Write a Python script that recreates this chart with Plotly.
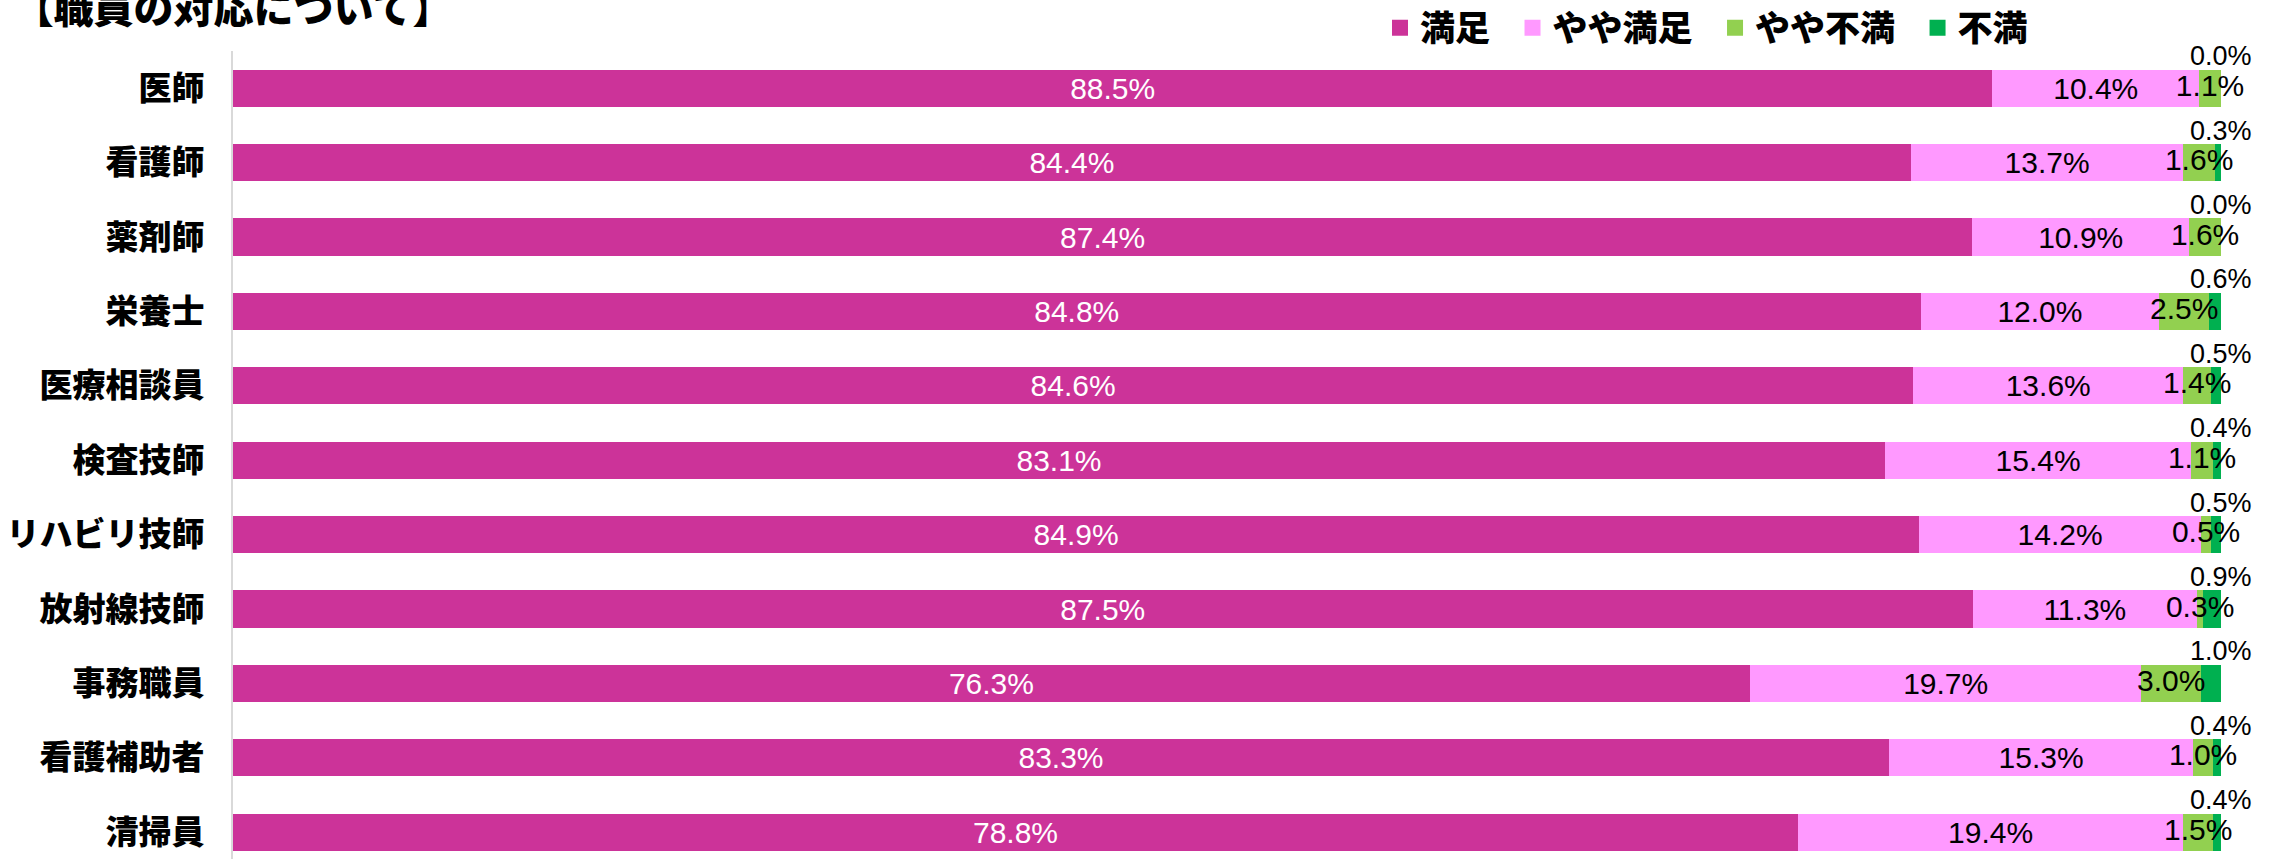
import plotly.graph_objects as go

categories = ["医師", "看護師", "薬剤師", "栄養士", "医療相談員", "検査技師",
              "リハビリ技師", "放射線技師", "事務職員", "看護補助者", "清掃員"]
manzoku = [88.5, 84.4, 87.4, 84.8, 84.6, 83.1, 84.9, 87.5, 76.3, 83.3, 78.8]
yaya_manzoku = [10.4, 13.7, 10.9, 12.0, 13.6, 15.4, 14.2, 11.3, 19.7, 15.3, 19.4]
yaya_fuman = [1.1, 1.6, 1.6, 2.5, 1.4, 1.1, 0.5, 0.3, 3.0, 1.0, 1.5]
fuman = [0.0, 0.3, 0.0, 0.6, 0.5, 0.4, 0.5, 0.9, 1.0, 0.4, 0.4]
series_names = ["満足", "やや満足", "やや不満", "不満"]
colors = ["#CC3399", "#FF99FF", "#92D050", "#00B050"]

NUM_FONT = "Liberation Sans Narrow, Arial Narrow, Liberation Sans, Arial, sans-serif"
JP_FONT = "Noto Sans CJK JP, sans-serif"
NUM_SIZE = 30

fig = go.Figure()
series = [manzoku, yaya_manzoku, yaya_fuman, fuman]
for i, (name, vals) in enumerate(zip(series_names, series)):
    kw = {}
    if i == 0:
        kw = dict(text=[f"{v:.1f}%" for v in vals], textposition="inside",
                  insidetextanchor="middle",
                  textfont=dict(color="white", size=NUM_SIZE, family=NUM_FONT))
    elif i == 1:
        kw = dict(text=[f"{v:.1f}%" for v in vals], textposition="inside",
                  insidetextanchor="middle",
                  textfont=dict(color="black", size=NUM_SIZE, family=NUM_FONT))
    fig.add_trace(go.Bar(
        y=categories, x=vals, name=name, orientation="h",
        marker=dict(color=colors[i], line=dict(width=0)),
        showlegend=False, constraintext="none", textangle=0,
        cliponaxis=False, hoverinfo="skip", **kw))

# normalized positions for small labels
totals = [a + b + c + d for a, b, c, d in zip(manzoku, yaya_manzoku, yaya_fuman, fuman)]
green_centers = [(a + b + c / 2) / t * 100 for a, b, c, t in zip(manzoku, yaya_manzoku, yaya_fuman, totals)]
fig.add_trace(go.Scatter(
    x=green_centers, y=categories, mode="text",
    text=[f"{v:.1f}%" for v in yaya_fuman], textposition="middle center",
    textfont=dict(color="black", size=NUM_SIZE, family=NUM_FONT),
    showlegend=False, cliponaxis=False, hoverinfo="skip"))

ends = [(a + b + c + d) / t * 100 for a, b, c, d, t in zip(manzoku, yaya_manzoku, yaya_fuman, fuman, totals)]
for cat, v, e in zip(categories, fuman, ends):
    fig.add_annotation(x=e, y=cat, text=f"{v:.1f}%", showarrow=False,
                       xanchor="center", yanchor="middle", yshift=32,
                       font=dict(color="black", size=27, family=NUM_FONT))

# legend entries
for name, c in zip(series_names, colors):
    fig.add_trace(go.Scatter(
        x=[None], y=[None], mode="markers", name=name + "\u2002",
        marker=dict(symbol="square", size=17, color=c), showlegend=True))

fig.update_layout(
    barmode="stack", barnorm="percent", bargap=0.5,
    width=2272, height=859,
    margin=dict(l=233, r=51, t=51, b=0, autoexpand=False),
    paper_bgcolor="white", plot_bgcolor="white",
    title=dict(text="【職員の対応について】", xref="container", x=0.006, xanchor="left",
               yref="container", y=1 - 9 / 859, yanchor="middle",
               font=dict(family=JP_FONT, size=40, color="black", weight=900)),
    legend=dict(orientation="h", xref="container", x=1380 / 2272, xanchor="left",
                yref="container", y=1 - 28 / 859, yanchor="middle",
                traceorder="normal",
                font=dict(family=JP_FONT, size=35, color="black", weight=900),
                itemsizing="trace", bgcolor="rgba(0,0,0,0)"),
    xaxis=dict(range=[0, 100], visible=False, showgrid=False, zeroline=False),
    yaxis=dict(type="category", categoryorder="array", categoryarray=categories,
               range=[10.36, -0.5], showline=True, linecolor="#D9D9D9", linewidth=2,
               showgrid=False, ticks="", ticklen=0, ticklabelstandoff=20,
               tickfont=dict(family=JP_FONT, size=33, color="black", weight=900)),
    showlegend=True,
)

fig.write_html("out.html", config={"displayModeBar": False},
               post_script="document.body.style.margin='0';document.body.style.overflow='hidden';")
